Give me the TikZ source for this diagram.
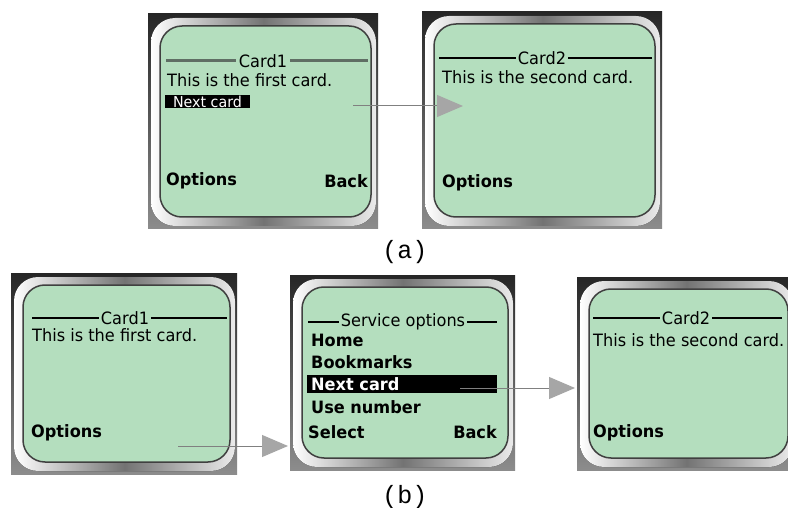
\documentclass[tikz,border=0pt]{standalone}
\usepackage{fontspec}
\newfontfamily\lcd[FakeStretch=0.95]{DejaVu Sans}
\newfontfamily\monofam{Liberation Mono}
\usetikzlibrary{arrows.meta,calc}
\definecolor{lcdgreen}{RGB}{180,222,190}
\definecolor{titlegraycol}{RGB}{95,110,100}
\tikzset{
  lcdtext/.style={inner sep=0pt, font=\lcd\fontsize{17}{17}\selectfont},
  lcdbold/.style={inner sep=0pt, font=\lcd\bfseries\fontsize{17}{17}\selectfont},
  invtext/.style={inner sep=0pt, text=white},
  titleline/.style={draw=black, line width=1.2pt},
  titlegray/.style={draw=titlegraycol, line width=3pt},
  screen/.style={fill=lcdgreen, draw=black!75, line width=1.5pt, rounded corners=22pt},
  hilite/.style={fill=black},
  flow/.style={draw=black!50, line width=1pt, -{Triangle[length=26pt,width=22pt,color=black!35]}},
  caption/.style={inner sep=0pt, font=\monofam\fontsize{25}{25}\selectfont}
}
\newcommand\phoneframe[4]{%
  \fill[top color=black!85, bottom color=black!45] (#1,#2) rectangle (#3,#4);
  \fill[rounded corners=24pt, left color=white, right color=white!92!black, middle color=black!55]
     ($(#1,#2)+(3,4)$) rectangle ($(#3,#4)+(-2,-3)$);
  \draw[screen] ($(#1,#2)+(12,12)$) rectangle ($(#3,#4)+(-7,-12)$);}
\begin{document}
\begin{tikzpicture}[x=1pt,y=-1pt]
\useasboundingbox (0,0) rectangle (788,508);
\clip (0,0) rectangle (788,508);
\fill[white] (0,0) rectangle (788,508);

% ---------- (a) left phone
\phoneframe{148}{14}{378}{229}
\node[lcdtext] (a1title) at (263,61) {Card1};
\coordinate (a1l) at (166,61); \coordinate (a1r) at (368,61);
\draw[titlegray] (a1l) -- ([xshift=-3pt]a1title.west);
\draw[titlegray] ([xshift=3pt]a1title.east) -- (a1r);
\node[lcdtext, anchor=west] (a1body) at (167,80) {This is the first card.};
\fill[hilite] (165,95) rectangle (250,108);
\node[invtext, font=\lcd\fontsize{15}{15}\selectfont] (a1next) at (207.5,101.5) {Next card};
\node[lcdbold, anchor=west] (a1opt) at (166,181) {Options};
\node[lcdbold, anchor=east] (a1back) at (368,181) {Back};

% ---------- (a) right phone
\phoneframe{422}{12}{662}{229}
\node[lcdtext] (a2title) at (542,58) {Card2};
\coordinate (a2l) at (439,58); \coordinate (a2r) at (652,58);
\draw[titleline] (a2l) -- ([xshift=-2pt]a2title.west);
\draw[titleline] ([xshift=2pt]a2title.east) -- (a2r);
\node[lcdtext, anchor=west] (a2body) at (442,77) {This is the second card.};
\node[lcdbold, anchor=west] (a2opt) at (442,183) {Options};

% ---------- (b) left phone
\phoneframe{11}{273}{237}{474}
\node[lcdtext] (b1title) at (125,318) {Card1};
\coordinate (b1l) at (32,318); \coordinate (b1r) at (227,318);
\draw[titleline] (b1l) -- ([xshift=-2pt]b1title.west);
\draw[titleline] ([xshift=2pt]b1title.east) -- (b1r);
\node[lcdtext, anchor=west] (b1body) at (32,335) {This is the first card.};
\node[lcdbold, anchor=west] (b1opt) at (31,433) {Options};

% ---------- (b) middle phone
\phoneframe{290}{275}{515}{470}
\node[lcdtext] (b2title) at (403,322) {Service options};
\coordinate (b2l) at (308,322); \coordinate (b2r) at (497,322);
\draw[titleline] (b2l) -- ([xshift=-2pt]b2title.west);
\draw[titleline] ([xshift=2pt]b2title.east) -- (b2r);
\node[lcdbold, anchor=west] (b2home) at (311,340) {Home};
\node[lcdbold, anchor=west] (b2book) at (311,362) {Bookmarks};
\fill[hilite] (307,375) rectangle (497,393);
\node[lcdbold, invtext, anchor=west] (b2next) at (311,384) {Next card};
\node[lcdbold, anchor=west] (b2use) at (311,407) {Use number};
\node[lcdbold, anchor=west] (b2sel) at (308,432) {Select};
\node[lcdbold, anchor=east] (b2back) at (497,432) {Back};

% ---------- (b) right phone
\phoneframe{577}{277}{795}{470}
\node[lcdtext] (b3title) at (686,318) {Card2};
\coordinate (b3l) at (593,318); \coordinate (b3r) at (782,318);
\draw[titleline] (b3l) -- ([xshift=-2pt]b3title.west);
\draw[titleline] ([xshift=2pt]b3title.east) -- (b3r);
\node[lcdtext, anchor=west] (b3body) at (593,340) {This is the second card.};
\node[lcdbold, anchor=west] (b3opt) at (593,433) {Options};

% ---------- arrows
\coordinate (sa) at (353,106); \coordinate (ea) at (463,106);
\draw[flow] (sa) -- (ea);
\coordinate (sb1) at (178,446); \coordinate (eb1) at (288,446);
\draw[flow] (sb1) -- (eb1);
\coordinate (sb2) at (460,388); \coordinate (eb2) at (575,388);
\draw[flow] (sb2) -- (eb2);

% ---------- captions
\node[caption] (capa) at (405,252) {(a)};
\node[caption] (capb) at (405,497) {(b)};
\end{tikzpicture}
\end{document}
